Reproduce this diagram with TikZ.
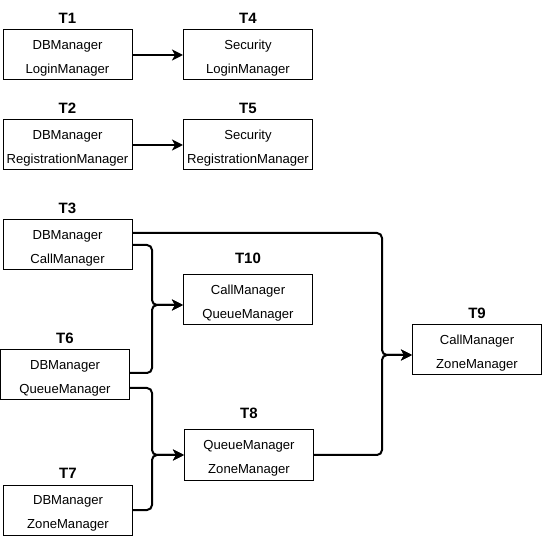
\documentclass[tikz,border=0pt]{standalone}
\usepackage{fontspec}
\setmainfont{Liberation Sans}
\usetikzlibrary{arrows.meta,calc}
\newcommand\twolines[2]{\rule{0pt}{15.5pt}#1\\#2}
\begin{document}
\begin{tikzpicture}[x=1pt,y=-1pt,
  box/.style={draw, line width=1pt, minimum width=129pt, minimum height=50pt, align=center, inner sep=0pt, font=\fontsize{13.1}{24.5}\selectfont},
  ttl/.style={font=\bfseries\fontsize{15}{17}\selectfont},
  conn/.style={line width=2pt, rounded corners=5pt},
  arr/.style={conn, -{Stealth[length=11pt,width=11pt,inset=3pt]}}]
\useasboundingbox (0,0) rectangle (544,537);
% boxes
\node[box] (T1) at (67.5,55) {\twolines{DBManager}{LoginManager}};
\node[box] (T4) at (248,55) {\twolines{Security}{LoginManager}};
\node[box] (T2) at (67.5,145) {\twolines{DBManager}{RegistrationManager}};
\node[box] (T5) at (248,145) {\twolines{Security}{RegistrationManager}};
\node[box] (T3) at (67.5,245) {\twolines{DBManager}{CallManager}};
\node[box] (T10) at (248,300) {\twolines{CallManager}{QueueManager}};
\node[box] (T6) at (65,375) {\twolines{DBManager}{QueueManager}};
\node[box] (T7) at (68,510) {\twolines{DBManager}{ZoneManager}};
\node[box] (T8) at (249,455) {\twolines{QueueManager}{ZoneManager}};
\node[box] (T9) at (477,350) {\twolines{CallManager}{ZoneManager}};
% titles
\node[ttl] (L1) at (67.5,18) {T1};
\node[ttl] (L4) at (248,18) {T4};
\node[ttl] (L2) at (67.5,108) {T2};
\node[ttl] (L5) at (248,108) {T5};
\node[ttl] (L3) at (67.5,208) {T3};
\node[ttl] (L10) at (248,258) {T10};
\node[ttl] (L6) at (65,338) {T6};
\node[ttl] (L7) at (68,473) {T7};
\node[ttl] (L8) at (249,413) {T8};
\node[ttl] (L9) at (477,313) {T9};
% helper coordinates
\coordinate (busA) at (152,0);
\coordinate (busB) at (382,0);
\coordinate (T10in) at ([yshift=-5pt]T10.west);
\coordinate (T9in) at ([yshift=-5pt]T9.west);
\coordinate (J10) at (busA |- T10in);
\coordinate (J8) at (busA |- T8.west);
\coordinate (J9) at (busB |- T9in);
% connectors
\draw[arr] (T1) -- (T4);
\draw[arr] (T2) -- (T5);
\draw[arr] ([yshift=12pt]T3.east) -| (J9) -- (T9in);
\draw[arr] (T8.east) -| (J9) -- (T9in);
\draw[arr] (T3.east) -| (J10) -- (T10in);
\draw[arr] ([yshift=2pt]T6.east) -| (J10) -- (T10in);
\draw[arr] ([yshift=-13pt]T6.east) -| (J8) -- (T8.west);
\draw[arr] (T7.east) -| (J8) -- (T8.west);
\end{tikzpicture}
\end{document}
